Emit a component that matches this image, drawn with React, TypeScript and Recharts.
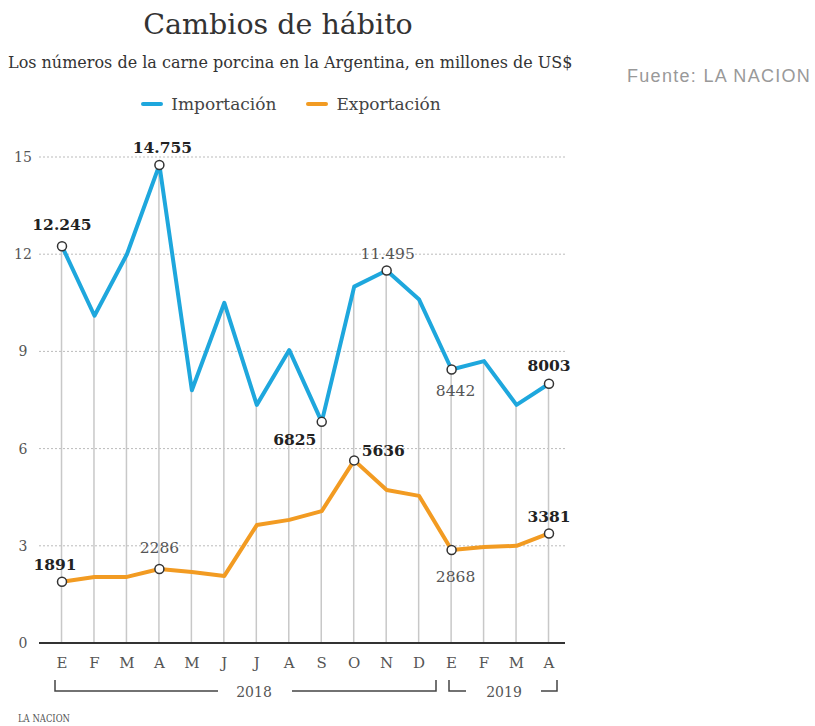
import { ComposedChart, Line, Bar, XAxis, YAxis, CartesianGrid, LabelList } from 'recharts'

const months = ['E', 'F', 'M', 'A', 'M', 'J', 'J', 'A', 'S', 'O', 'N', 'D', 'E', 'F', 'M', 'A']
const importacion = [12.245, 10.1, 12.0, 14.755, 7.8, 10.5, 7.35, 9.04, 6.825, 11.0, 11.495, 10.6, 8.442, 8.7, 7.35, 8.003]
const exportacion = [1.891, 2.04, 2.04, 2.286, 2.19, 2.07, 3.64, 3.8, 4.07, 5.636, 4.72, 4.54, 2.868, 2.96, 3.0, 3.381]
const yTicks = [0, 3, 6, 9, 12, 15]

// labelled points: index -> [text, bold]
const importLabels: Record<number, [string, boolean]> = {
  0: ['12.245', true], 3: ['14.755', true], 8: ['6825', true],
  10: ['11.495', false], 12: ['8442', false], 15: ['8003', true],
}
const exportLabels: Record<number, [string, boolean]> = {
  0: ['1891', true], 3: ['2286', false], 9: ['5636', true],
  12: ['2868', false], 15: ['3381', true],
}

// label placement relative to the point
const importPos: Record<number, [number, number]> = {
  0: [0, -22], 3: [3, -17], 8: [-27, 18], 10: [1, -17], 12: [4, 22], 15: [0, -18],
}
const exportPos: Record<number, [number, number]> = {
  0: [-7, -17], 3: [0, -21], 9: [29, -10], 12: [4, 27], 15: [0, -17],
}

const data = months.map((m, i) => ({ i, m, imp: importacion[i], exp: exportacion[i] }))

const BLUE = '#1ea7dd'
const ORANGE = '#f29b22'
const SERIF = '"DejaVu Serif", serif'

const makeDot = (labels: Record<number, [string, boolean]>) => (p: any) => {
  if (!labels[p.index]) return <g key={`d${p.index}`} />
  return <circle key={`d${p.index}`} cx={p.cx} cy={p.cy} r={4.5} fill="#fff" stroke="#333" strokeWidth={1.5} />
}

const makeLabel = (labels: Record<number, [string, boolean]>, pos: Record<number, [number, number]>) => (p: any) => {
  const l = labels[p.index]
  if (!l) return null
  const [dx, dy] = pos[p.index]
  return (
    <text x={p.x + dx} y={p.y + dy} textAnchor="middle" dominantBaseline="central"
      fontFamily={SERIF} fontSize={15.5} fontWeight={l[1] ? 700 : 400} fill={l[1] ? '#222' : '#555'}>
      {l[0]}
    </text>
  )
}

const YTick = (p: any) => (
  <text x={p.x - 16} y={p.y} textAnchor="middle" dominantBaseline="central" fontFamily={SERIF} fontSize={14} fill="#555">
    {p.payload.value}
  </text>
)

export default function App() {
  return (
    <div style={{ position: 'absolute', left: 0, top: 0, width: 815, height: 726, background: '#fff', fontFamily: SERIF }}>
      <div style={{ position: 'absolute', left: 0, width: 556, top: 8, textAlign: 'center', fontSize: 28.5, color: '#333' }}>
        Cambios de hábito
      </div>
      <div style={{ position: 'absolute', left: 8, top: 53, fontSize: 16, color: '#333', whiteSpace: 'nowrap' }}>
        Los números de la carne porcina en la Argentina, en millones de US$
      </div>
      <div style={{ position: 'absolute', left: 627, top: 66, fontSize: 18, letterSpacing: 1.3, color: '#999', fontFamily: '"Liberation Sans", Arial, sans-serif', whiteSpace: 'nowrap' }}>
        Fuente: LA NACION
      </div>
      <div style={{ position: 'absolute', left: 0, width: 582, top: 94, display: 'flex', justifyContent: 'center', gap: 30, fontSize: 17, color: '#444' }}>
        {[['Importación', BLUE], ['Exportación', ORANGE]].map(([name, c]) => (
          <div key={name} style={{ display: 'flex', alignItems: 'center', gap: 8 }}>
            <span style={{ display: 'inline-block', width: 22, height: 4, borderRadius: 2, background: c }} />
            <span>{name}</span>
          </div>
        ))}
      </div>

      <div style={{ position: 'absolute', left: 0, top: 0 }}>
        <ComposedChart width={600} height={700} data={data} margin={{ top: 157, right: 35, left: 0, bottom: 27 }}>
          <CartesianGrid vertical={false} stroke="#bbb" strokeDasharray="2 2" />
          <XAxis type="number" dataKey="i" domain={[0, 15]} ticks={data.map((d) => d.i)} interval={0}
            padding={{ left: 23, right: 16 }} height={30}
            tickFormatter={(v: number) => months[v]} tickLine={false}
            axisLine={{ stroke: '#333', strokeWidth: 2 }}
            tick={{ fill: '#555', fontSize: 15, fontFamily: SERIF }} tickMargin={8} />
          <YAxis width={39} domain={[0, 15]} ticks={yTicks} axisLine={false} tickLine={false}
            tickSize={0} tickMargin={0} tick={YTick} />
          <Bar dataKey="imp" barSize={1.5} fill="#c8c8c8" isAnimationActive={false} />
          <Line dataKey="exp" stroke={ORANGE} strokeWidth={4} strokeLinejoin="round" isAnimationActive={false}
            dot={makeDot(exportLabels)} activeDot={false}>
            <LabelList dataKey="exp" content={makeLabel(exportLabels, exportPos)} />
          </Line>
          <Line dataKey="imp" stroke={BLUE} strokeWidth={4} strokeLinejoin="round" isAnimationActive={false}
            dot={makeDot(importLabels)} activeDot={false}>
            <LabelList dataKey="imp" content={makeLabel(importLabels, importPos)} />
          </Line>
        </ComposedChart>
      </div>

      <svg width={815} height={726} style={{ position: 'absolute', left: 0, top: 0, pointerEvents: 'none' }}>
        <g stroke="#444" strokeWidth={1.5} fill="none">
          <polyline points="55,680 55,691 218,691" />
          <polyline points="292,691 436,691 436,680" />
          <polyline points="449,680 449,691 466,691" />
          <polyline points="541,691 557,691 557,680" />
        </g>
        <g fontFamily={SERIF} fontSize={14} fill="#555" textAnchor="middle">
          <text x={254} y={697}>2018</text>
          <text x={504} y={697}>2019</text>
        </g>
        <text x={18} y={722} fontFamily={SERIF} fontSize={11} fill="#555" textLength={52} lengthAdjust="spacingAndGlyphs">LA NACION</text>
      </svg>
    </div>
  )
}
